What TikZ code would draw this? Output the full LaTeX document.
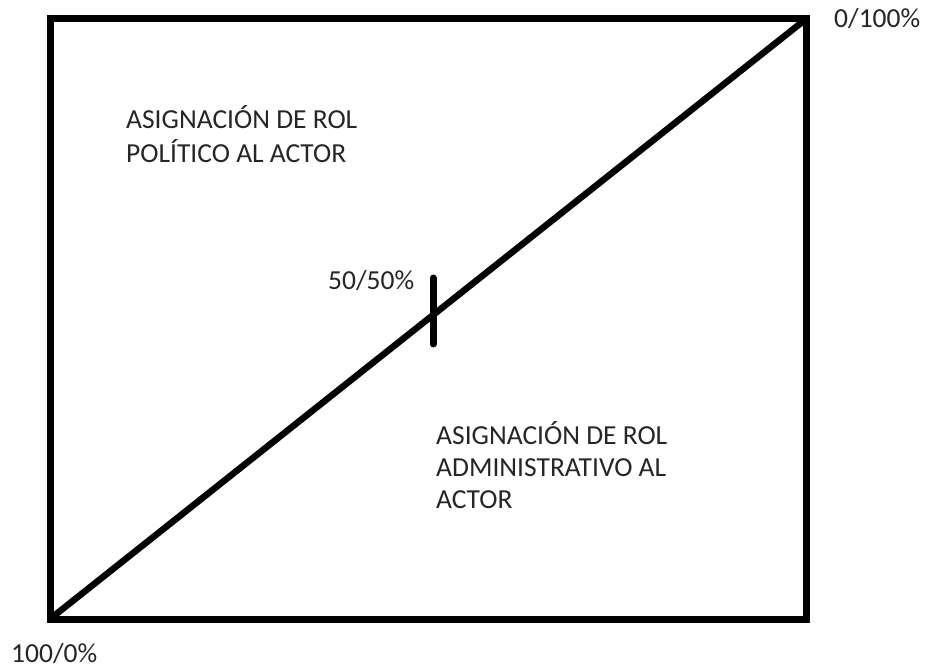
\documentclass[tikz,border=0pt]{standalone}
\usepackage{fontspec}
\setmainfont{Carlito}
\begin{document}
\begin{tikzpicture}[x=1pt,y=-1pt,
  frame/.style={line width=7pt,line join=miter},
  diag/.style={line width=6.5pt},
  tickmark/.style={line width=7pt,line cap=round},
  lbl/.style={inner sep=0pt,anchor=base west,font=\fontsize{27.5}{33}\selectfont,text=black!85}]
\useasboundingbox (0,0) rectangle (926,668);
\coordinate (bl) at (50,619);
\coordinate (tr) at (806,19);
\draw[frame] (bl) rectangle (tr);
\draw[diag] (bl) -- (tr);
\coordinate (tt) at (433,278);
\coordinate (tb) at (433,344);
\draw[tickmark] (tt) -- (tb);
\node[lbl] (p1) at (126,129) {ASIGNACIÓN DE ROL};
\node[lbl] (p2) at (126,163) {POLÍTICO AL ACTOR};
\node[lbl] (a1) at (436,444) {ASIGNACIÓN DE ROL};
\node[lbl] (a2) at (436,476) {ADMINISTRATIVO AL};
\node[lbl] (a3) at (436,508) {ACTOR};
\node[lbl] (mid) at (328,290) {50/50\%};
\node[lbl] (top) at (834,28) {0/100\%};
\node[lbl] (bot) at (11,662) {100/0\%};
\end{tikzpicture}
\end{document}
